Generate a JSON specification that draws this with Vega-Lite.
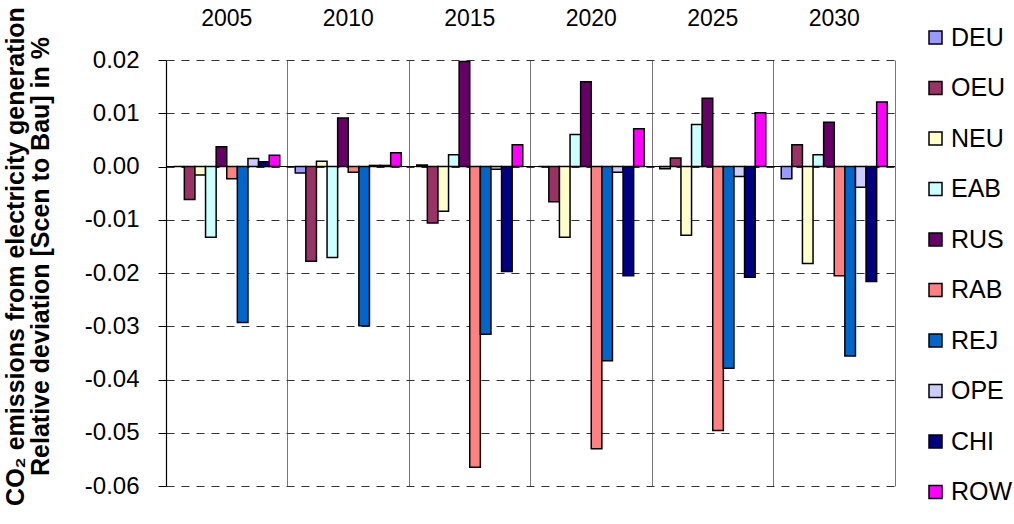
{
  "$schema": "https://vega.github.io/schema/vega-lite/v6.json",
  "width": 729,
  "height": 426,
  "autosize": {"type": "none"},
  "padding": {"left": 166, "top": 60, "right": 119, "bottom": 38},
  "background": "white",
  "config": {
    "view": {"stroke": null},
    "font": "Liberation Sans",
    "axis": {"labelFont": "Liberation Sans", "titleFont": "Liberation Sans"},
    "legend": {"labelFont": "Liberation Sans"}
  },
  "data": {
    "values": [
      {"year": "2005", "region": "DEU", "value": 0.0000},
      {"year": "2005", "region": "OEU", "value": -0.0062},
      {"year": "2005", "region": "NEU", "value": -0.0016},
      {"year": "2005", "region": "EAB", "value": -0.0133},
      {"year": "2005", "region": "RUS", "value": 0.0037},
      {"year": "2005", "region": "RAB", "value": -0.0023},
      {"year": "2005", "region": "REJ", "value": -0.0293},
      {"year": "2005", "region": "OPE", "value": 0.0015},
      {"year": "2005", "region": "CHI", "value": 0.0009},
      {"year": "2005", "region": "ROW", "value": 0.0021},
      {"year": "2010", "region": "DEU", "value": -0.0012},
      {"year": "2010", "region": "OEU", "value": -0.0178},
      {"year": "2010", "region": "NEU", "value": 0.0010},
      {"year": "2010", "region": "EAB", "value": -0.0171},
      {"year": "2010", "region": "RUS", "value": 0.0091},
      {"year": "2010", "region": "RAB", "value": -0.0011},
      {"year": "2010", "region": "REJ", "value": -0.0299},
      {"year": "2010", "region": "OPE", "value": 0.0002},
      {"year": "2010", "region": "CHI", "value": 0.0002},
      {"year": "2010", "region": "ROW", "value": 0.0026},
      {"year": "2015", "region": "DEU", "value": 0.0003},
      {"year": "2015", "region": "OEU", "value": -0.0106},
      {"year": "2015", "region": "NEU", "value": -0.0084},
      {"year": "2015", "region": "EAB", "value": 0.0022},
      {"year": "2015", "region": "RUS", "value": 0.0197},
      {"year": "2015", "region": "RAB", "value": -0.0565},
      {"year": "2015", "region": "REJ", "value": -0.0315},
      {"year": "2015", "region": "OPE", "value": -0.0005},
      {"year": "2015", "region": "CHI", "value": -0.0197},
      {"year": "2015", "region": "ROW", "value": 0.0041},
      {"year": "2020", "region": "DEU", "value": 0.0000},
      {"year": "2020", "region": "OEU", "value": -0.0066},
      {"year": "2020", "region": "NEU", "value": -0.0133},
      {"year": "2020", "region": "EAB", "value": 0.0060},
      {"year": "2020", "region": "RUS", "value": 0.0159},
      {"year": "2020", "region": "RAB", "value": -0.0530},
      {"year": "2020", "region": "REJ", "value": -0.0365},
      {"year": "2020", "region": "OPE", "value": -0.0011},
      {"year": "2020", "region": "CHI", "value": -0.0205},
      {"year": "2020", "region": "ROW", "value": 0.0071},
      {"year": "2025", "region": "DEU", "value": -0.0004},
      {"year": "2025", "region": "OEU", "value": 0.0016},
      {"year": "2025", "region": "NEU", "value": -0.0129},
      {"year": "2025", "region": "EAB", "value": 0.0079},
      {"year": "2025", "region": "RUS", "value": 0.0128},
      {"year": "2025", "region": "RAB", "value": -0.0496},
      {"year": "2025", "region": "REJ", "value": -0.0379},
      {"year": "2025", "region": "OPE", "value": -0.0019},
      {"year": "2025", "region": "CHI", "value": -0.0208},
      {"year": "2025", "region": "ROW", "value": 0.0101},
      {"year": "2030", "region": "DEU", "value": -0.0023},
      {"year": "2030", "region": "OEU", "value": 0.0041},
      {"year": "2030", "region": "NEU", "value": -0.0182},
      {"year": "2030", "region": "EAB", "value": 0.0022},
      {"year": "2030", "region": "RUS", "value": 0.0083},
      {"year": "2030", "region": "RAB", "value": -0.0205},
      {"year": "2030", "region": "REJ", "value": -0.0356},
      {"year": "2030", "region": "OPE", "value": -0.0039},
      {"year": "2030", "region": "CHI", "value": -0.0216},
      {"year": "2030", "region": "ROW", "value": 0.0121}
    ]
  },
  "resolve": {"axis": {"y": "independent"}},
  "layer": [
    {
      "mark": {"type": "bar", "stroke": "black", "strokeWidth": 1.5},
      "encoding": {
        "x": {
          "field": "year",
          "type": "nominal",
          "scale": {"paddingInner": 0, "paddingOuter": 0},
          "axis": {
            "orient": "top",
            "title": null,
            "labelAngle": 0,
            "labelFontSize": 23,
            "labelColor": "black",
            "labelPadding": 30,
            "ticks": false,
            "domain": false,
            "grid": true,
            "bandPosition": 0,
            "gridColor": "#777777",
            "gridWidth": 1
          }
        },
        "xOffset": {
          "field": "region",
          "sort": ["DEU", "OEU", "NEU", "EAB", "RUS", "RAB", "REJ", "OPE", "CHI", "ROW"],
          "scale": {"paddingInner": 0, "paddingOuter": 0.73}
        },
        "y": {
          "field": "value",
          "type": "quantitative",
          "scale": {"domain": [-0.06, 0.02], "nice": false, "zero": false},
          "axis": {
            "orient": "left",
            "values": [-0.06, -0.05, -0.04, -0.03, -0.02, -0.01, 0, 0.01, 0.02],
            "labelExpr": "replace(format(datum.value, '.2f'), '\u2212', '-')",
            "labelFontSize": 24,
            "labelColor": "black",
            "labelPadding": 19,
            "tickSize": 8,
            "tickColor": "black",
            "tickWidth": 1,
            "domainColor": "black",
            "domainWidth": 1.2,
            "grid": true,
            "gridColor": "#333333",
            "gridDash": [8, 7],
            "gridWidth": 1,
            "title": ["CO\u2082 emissions from electricity generation", "Relative deviation [Scen to Bau] in %"],
            "titleFontSize": 25,
            "titleFontWeight": "bold",
            "titleColor": "black",
            "titleAngle": 270,
            "titleBaseline": "top",
            "titleAlign": "center",
            "titleLineHeight": 25,
            "titleX": -163,
            "titleY": 196
          }
        },
        "color": {
          "field": "region",
          "type": "nominal",
          "scale": {
            "domain": ["DEU", "OEU", "NEU", "EAB", "RUS", "RAB", "REJ", "OPE", "CHI", "ROW"],
            "range": ["#9999FF", "#993366", "#FFFFCC", "#CCFFFF", "#660066", "#FF8080", "#0066CC", "#CCCCFF", "#000080", "#FF00FF"]
          },
          "legend": {
            "title": null,
            "orient": "none",
            "legendX": 757,
            "legendY": -35,
            "symbolType": "square",
            "symbolSize": 169,
            "symbolStrokeColor": "black",
            "symbolStrokeWidth": 1.5,
            "labelFontSize": 25,
            "labelColor": "black",
            "labelOffset": 3,
            "rowPadding": 24.5
          }
        }
      }
    },
    {
      "data": {"values": [{"zero": 0}]},
      "mark": {"type": "rule", "color": "black", "strokeWidth": 1.2},
      "encoding": {
        "y": {
          "field": "zero",
          "type": "quantitative",
          "scale": {"domain": [-0.06, 0.02], "nice": false, "zero": false},
          "axis": {
            "orient": "right",
            "labels": false,
            "ticks": false,
            "grid": false,
            "title": null,
            "domainColor": "#777777",
            "domainWidth": 1
          }
        }
      }
    }
  ]
}
